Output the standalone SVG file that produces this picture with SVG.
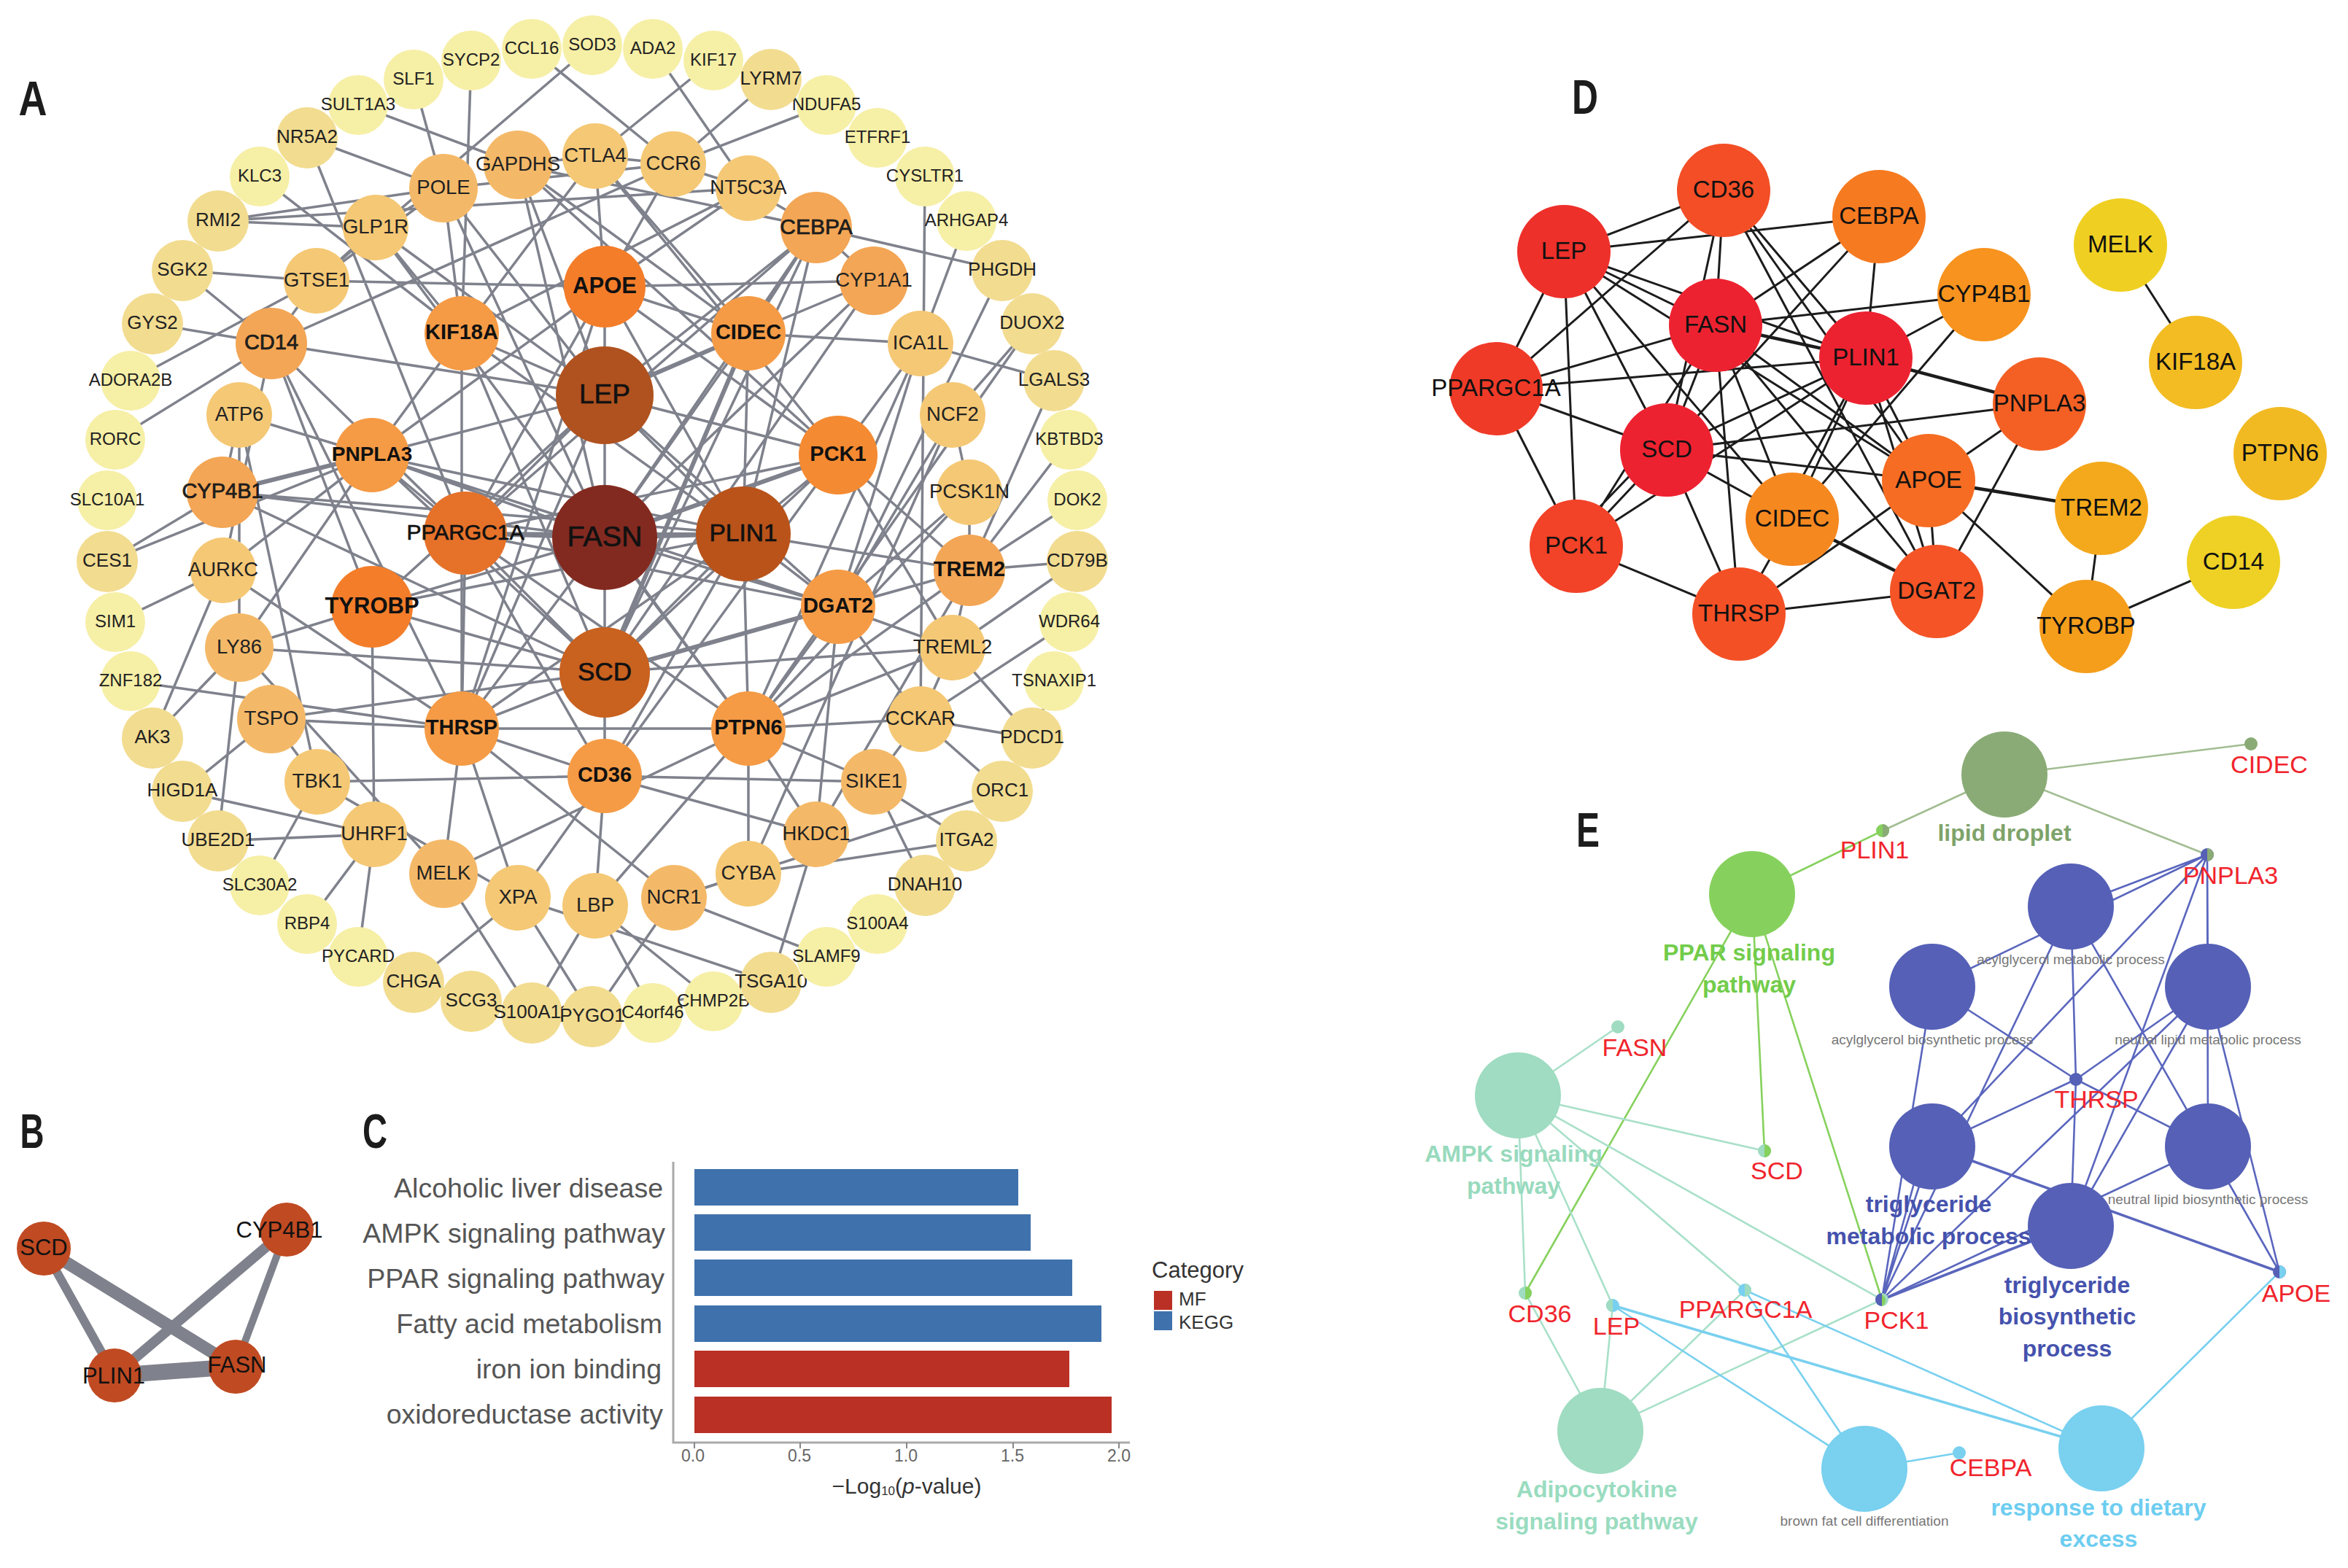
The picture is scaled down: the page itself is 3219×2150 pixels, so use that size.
<svg xmlns="http://www.w3.org/2000/svg" width="3219" height="2150" viewBox="0 0 3219 2150">
<style>
text{font-family:"Liberation Sans",Arial,sans-serif;text-anchor:middle;dominant-baseline:central;fill:#222;transform:translateY(-2px)}
.o1{fill:#f6efa6}.o2{fill:#f2dc90}.m1{fill:#f5c875}.m2{fill:#f4b968}.m3{fill:#f3a655}.i1{fill:#f59b45}.i2{fill:#f48a32}.i3{fill:#f47d2a}
.s{font-size:24px}.d{font-size:26px}.m{font-size:27.5px}.b{font-size:29px;font-weight:bold;fill:#111}
.h{stroke:#111;stroke-width:.7}
.ea{stroke:#7f828c;stroke-width:3.5;fill:none}.ea .t{stroke-width:6}
.eb{stroke:#7f828c;fill:none}
.ed{stroke:#1c1c1c;stroke-width:3;fill:none}.ed .t{stroke-width:4.5}
.nb{fill:#c04a22}.bt{font-size:31px;fill:#111}
.dt{font-size:33px;fill:#111}
.lb{font-size:66px;font-weight:bold;fill:#1c1c1c}
.cl{font-size:37.5px;fill:#555;text-anchor:end}.tk{font-size:23px;fill:#666}
.blue{fill:#3f72ac}.red{fill:#bb3025}
.g1{stroke:#a2bd92}.g2{stroke:#86d15d}.g3{stroke:#a9e0c9}.g4{stroke:#79d0ef}.g5{stroke:#5a66bd}
.ee path{stroke-width:2.6;fill:none}.ee .t{stroke-width:3.6}
.r{font-size:34px;fill:#f0242c}.gl{font-size:32px;font-weight:bold}.gy{font-size:19px;fill:#777}
.c1{fill:#8aab76}.c2{fill:#86d15d}.c3{fill:#9fdcc1}.c4{fill:#79d0ef}.c5{fill:#5560b6}
</style>
<rect width="3219" height="2150" fill="#fff"/>
<text class="lb" x="45" y="137" textLength="39" lengthAdjust="spacingAndGlyphs">A</text>
<text class="lb" x="44" y="1553" textLength="33" lengthAdjust="spacingAndGlyphs">B</text>
<text class="lb" x="514" y="1553" textLength="34" lengthAdjust="spacingAndGlyphs">C</text>
<text class="lb" x="2173" y="135" textLength="36" lengthAdjust="spacingAndGlyphs">D</text>
<text class="lb" x="2177" y="1140" textLength="32" lengthAdjust="spacingAndGlyphs">E</text>

<g id="connectors-A" class="ea">
<path d="M646 83L633 457M567 109L608 258M491 144L710 226M421 189L608 258M421 189L638 731M356 242L633 457M299 303L608 258M299 303L515 312M299 303L1026 258M250 371L434 385M434 385L829 393M829 393L1198 385M250 371L372 471M209 444L372 471M179 522L434 385M158 603L372 471M372 471L923 225M372 471L829 542M372 471L638 731M372 471L510 832M372 471L633 999M372 471L306 782"/>
<path d="M812 62L434 385M729 67L923 225M895 67L1026 258M978 83L816 214M1057 109L923 225M1133 144L923 225M816 214L923 225M816 214L829 393M816 214L633 457M923 225L829 393M923 225L608 258M923 225L1026 258M1026 258L1119 312M1026 258L829 393M1026 258L633 457"/>
<path d="M710 226L829 542M710 226L829 737M710 226L1119 312M710 226L1149 624M710 226L816 214M816 214L1026 457M816 214L1149 624M710 226L1026 457M608 258L633 457M608 258L829 542M608 258L829 737M608 258L515 312M434 385L608 258M434 385L372 471M515 312L633 457M515 312L1026 999M515 312L829 542M434 385L515 312"/>
<path d="M1119 312L1374 371M1119 312L1198 385M1119 312L1026 457M1119 312L829 737M1119 312L1019 732M1119 312L829 542M1119 312L638 731M1119 312L829 922M1198 385L1026 457M1198 385L829 737M1198 385L829 922M829 393L1026 457M829 393L1149 624M829 393L1019 732M829 393L829 542M829 393L638 731M829 393L510 624M829 393L633 999M633 457L510 624M633 457L829 542M633 457L1019 732M633 457L633 999M633 457L829 922"/>
<path d="M1268 242L1262 986M1325 303L1262 471M1026 457L1262 471M1262 471L1445 522M1262 471L1149 624M1262 471L1149 832M1262 471L1026 999M1374 371L1149 832M1415 444L1306 569M1415 444L1026 999M1445 522L1329 782M1466 603L1329 782M1477 686L1329 782M1477 770L1329 782M1477 770L1306 888M1466 853L1262 986M1445 934L1415 1012M1415 1012L1262 986M1374 1085L1262 986M1306 888L1415 1012M1374 1085L924 1231M1325 1153L1026 1198M1325 1153L1198 1072M1268 1214L1198 1072M1133 1312L924 1231M1057 1347L1119 1144M1057 1347L812 1394M710 1231L1057 1347M978 1373L816 1242M895 1389L816 1242M812 1394L710 1231M812 1394L924 1231M729 1389L816 1242M729 1389L608 1198M567 1347L710 1231M491 1312L513 1144M421 1267L513 1144M356 1214L435 1072M299 1153L513 1144M250 1085L513 1144M250 1085L372 986M299 1153L328 888M209 1012L306 782M209 1012L328 888M179 934L633 999M158 853L306 782M147 770L305 675M147 770L510 624"/>
<path d="M328 569L510 624M328 569L305 675M328 569L328 888M328 569L435 1072M305 675L510 624M305 675L829 737M305 675L1019 732M305 675L829 922M306 782L510 624M306 782L633 999M328 888L510 832M328 888L829 922M328 888L510 624M328 888L608 1198M372 986L829 922M372 986L633 999M372 986L435 1072M435 1072L829 1064M435 1072L710 1231M510 832L513 1144M633 999L608 1198M633 999L710 1231M633 999L924 1231M633 999L829 1064M829 1064L1198 1072M608 1198L1026 999M829 1064L710 1231M829 1064L816 1242M829 1064L1119 1144M829 1064L1149 624M829 1064L1019 732"/>
<path d="M1026 999L1262 986M1026 999L1198 1072M1026 999L1119 1144M1026 999L1026 1198M1026 999L816 1242M1026 999L1306 888M1026 999L1149 832M1026 999L1329 675M1026 999L633 999M1026 1198L1306 569M924 1231L1026 1198M1119 1144L1149 832M1119 1144L1329 782M1149 624L1329 782M1149 624L1306 888M1306 569L1329 675M1329 675L1329 782M1329 675L1149 832M1306 569L1149 832M1329 782L1149 832M1329 782L1306 888M1329 782L1019 732M1329 782L1026 999M1329 782L829 922M1149 832L1306 888M1149 832L1262 986M1262 986L1306 888M1262 986L1198 1072M829 922L1306 888"/>
<path d="M829 542L1019 732M829 542L829 737M829 542L829 922M829 542L638 731M829 542L1149 624M829 542L1149 832M829 542L829 1064M829 542L510 624M829 542L510 832M829 542L633 999M829 737L829 922M829 737L1149 624M829 737L1149 832M829 737L1026 999M829 737L829 1064M829 737L633 999M829 737L510 624M829 737L510 832M829 737L1026 457M1019 732L829 922M1019 732L1149 624M1019 732L1149 832M1019 732L638 731M1019 732L1026 457M1019 732L633 999M1019 732L510 624M1019 732L510 832M1019 732L1026 999M829 922L638 731M829 922L1149 624M829 922L1149 832M829 922L633 999M829 922L829 1064M829 922L510 624M829 922L510 832M829 922L1026 457M638 731L1149 624M638 731L1149 832M638 731L633 999M638 731L829 1064M638 731L1026 999M638 731L510 624M510 624L1149 832"/>
<path class="t" d="M829 542L1026 457M1026 457L829 922M829 737L638 731M829 737L1019 732M1149 832L829 922M1149 624L829 737M510 624L305 675"/>
</g>

<g id="nodes-A">
<g id="a-CCL16"><circle cx="729" cy="67" r="41" class="o1"/><text class="s" x="729" y="67">CCL16</text></g>
<g id="a-SYCP2"><circle cx="646" cy="83" r="41" class="o1"/><text class="s" x="646" y="83">SYCP2</text></g>
<g id="a-SLF1"><circle cx="567" cy="109" r="41" class="o1"/><text class="s" x="567" y="109">SLF1</text></g>
<g id="a-SULT1A3"><circle cx="491" cy="144" r="41" class="o1"/><text class="s" x="491" y="144">SULT1A3</text></g>
<g id="a-NR5A2"><circle cx="421" cy="189" r="42" class="o2"/><text class="d" x="421" y="189">NR5A2</text></g>
<g id="a-KLC3"><circle cx="356" cy="242" r="41" class="o1"/><text class="s" x="356" y="242">KLC3</text></g>
<g id="a-RMI2"><circle cx="299" cy="303" r="42" class="o2"/><text class="d" x="299" y="303">RMI2</text></g>
<g id="a-SGK2"><circle cx="250" cy="371" r="42" class="o2"/><text class="d" x="250" y="371">SGK2</text></g>
<g id="a-GYS2"><circle cx="209" cy="444" r="42" class="o2"/><text class="d" x="209" y="444">GYS2</text></g>
<g id="a-ADORA2B"><circle cx="179" cy="522" r="41" class="o1"/><text class="s" x="179" y="522">ADORA2B</text></g>
<g id="a-RORC"><circle cx="158" cy="603" r="41" class="o1"/><text class="s" x="158" y="603">RORC</text></g>
<g id="a-SLC10A1"><circle cx="147" cy="686" r="41" class="o1"/><text class="s" x="147" y="686">SLC10A1</text></g>
<g id="a-CES1"><circle cx="147" cy="770" r="42" class="o2"/><text class="d" x="147" y="770">CES1</text></g>
<g id="a-SIM1"><circle cx="158" cy="853" r="41" class="o1"/><text class="s" x="158" y="853">SIM1</text></g>
<g id="a-ZNF182"><circle cx="179" cy="934" r="41" class="o1"/><text class="s" x="179" y="934">ZNF182</text></g>
<g id="a-AK3"><circle cx="209" cy="1012" r="42" class="o2"/><text class="d" x="209" y="1012">AK3</text></g>
<g id="a-HIGD1A"><circle cx="250" cy="1085" r="42" class="o2"/><text class="d" x="250" y="1085">HIGD1A</text></g>
<g id="a-UBE2D1"><circle cx="299" cy="1153" r="42" class="o2"/><text class="d" x="299" y="1153">UBE2D1</text></g>
<g id="a-SLC30A2"><circle cx="356" cy="1214" r="41" class="o1"/><text class="s" x="356" y="1214">SLC30A2</text></g>
<g id="a-RBP4"><circle cx="421" cy="1267" r="41" class="o1"/><text class="s" x="421" y="1267">RBP4</text></g>
<g id="a-PYCARD"><circle cx="491" cy="1312" r="41" class="o1"/><text class="s" x="491" y="1312">PYCARD</text></g>
<g id="a-CHGA"><circle cx="567" cy="1347" r="42" class="o2"/><text class="d" x="567" y="1347">CHGA</text></g>
<g id="a-SCG3"><circle cx="646" cy="1373" r="42" class="o2"/><text class="d" x="646" y="1373">SCG3</text></g>
<g id="a-S100A11"><circle cx="729" cy="1389" r="42" class="o2"/><text class="d" x="729" y="1389">S100A11</text></g>
<g id="a-PYGO1"><circle cx="812" cy="1394" r="42" class="o2"/><text class="d" x="812" y="1394">PYGO1</text></g>
<g id="a-C4orf46"><circle cx="895" cy="1389" r="41" class="o1"/><text class="s" x="895" y="1389">C4orf46</text></g>
<g id="a-CHMP2B"><circle cx="978" cy="1373" r="41" class="o1"/><text class="s" x="978" y="1373">CHMP2B</text></g>
<g id="a-TSGA10"><circle cx="1057" cy="1347" r="42" class="o2"/><text class="d" x="1057" y="1347">TSGA10</text></g>
<g id="a-SLAMF9"><circle cx="1133" cy="1312" r="41" class="o1"/><text class="s" x="1133" y="1312">SLAMF9</text></g>
<g id="a-S100A4"><circle cx="1203" cy="1267" r="41" class="o1"/><text class="s" x="1203" y="1267">S100A4</text></g>
<g id="a-DNAH10"><circle cx="1268" cy="1214" r="42" class="o2"/><text class="d" x="1268" y="1214">DNAH10</text></g>
<g id="a-ITGA2"><circle cx="1325" cy="1153" r="42" class="o2"/><text class="d" x="1325" y="1153">ITGA2</text></g>
<g id="a-ORC1"><circle cx="1374" cy="1085" r="42" class="o2"/><text class="d" x="1374" y="1085">ORC1</text></g>
<g id="a-PDCD1"><circle cx="1415" cy="1012" r="42" class="o2"/><text class="d" x="1415" y="1012">PDCD1</text></g>
<g id="a-TSNAXIP1"><circle cx="1445" cy="934" r="41" class="o1"/><text class="s" x="1445" y="934">TSNAXIP1</text></g>
<g id="a-WDR64"><circle cx="1466" cy="853" r="41" class="o1"/><text class="s" x="1466" y="853">WDR64</text></g>
<g id="a-CD79B"><circle cx="1477" cy="770" r="42" class="o2"/><text class="d" x="1477" y="770">CD79B</text></g>
<g id="a-DOK2"><circle cx="1477" cy="686" r="41" class="o1"/><text class="s" x="1477" y="686">DOK2</text></g>
<g id="a-KBTBD3"><circle cx="1466" cy="603" r="41" class="o1"/><text class="s" x="1466" y="603">KBTBD3</text></g>
<g id="a-LGALS3"><circle cx="1445" cy="522" r="42" class="o2"/><text class="d" x="1445" y="522">LGALS3</text></g>
<g id="a-DUOX2"><circle cx="1415" cy="444" r="42" class="o2"/><text class="d" x="1415" y="444">DUOX2</text></g>
<g id="a-PHGDH"><circle cx="1374" cy="371" r="42" class="o2"/><text class="d" x="1374" y="371">PHGDH</text></g>
<g id="a-ARHGAP4"><circle cx="1325" cy="303" r="41" class="o1"/><text class="s" x="1325" y="303">ARHGAP4</text></g>
<g id="a-CYSLTR1"><circle cx="1268" cy="242" r="41" class="o1"/><text class="s" x="1268" y="242">CYSLTR1</text></g>
<g id="a-ETFRF1"><circle cx="1203" cy="189" r="41" class="o1"/><text class="s" x="1203" y="189">ETFRF1</text></g>
<g id="a-NDUFA5"><circle cx="1133" cy="144" r="41" class="o1"/><text class="s" x="1133" y="144">NDUFA5</text></g>
<g id="a-LYRM7"><circle cx="1057" cy="109" r="42" class="o2"/><text class="d" x="1057" y="109">LYRM7</text></g>
<g id="a-KIF17"><circle cx="978" cy="83" r="41" class="o1"/><text class="s" x="978" y="83">KIF17</text></g>
<g id="a-ADA2"><circle cx="895" cy="67" r="41" class="o1"/><text class="s" x="895" y="67">ADA2</text></g>
<g id="a-SOD3"><circle cx="812" cy="62" r="41" class="o1"/><text class="s" x="812" y="62">SOD3</text></g>

<g id="a-POLE"><circle cx="608" cy="258" r="47" class="m2"/><text class="m" x="608" y="258">POLE</text></g>
<g id="a-GAPDHS"><circle cx="710" cy="226" r="47" class="m2"/><text class="m" x="710" y="226">GAPDHS</text></g>
<g id="a-CTLA4"><circle cx="816" cy="214" r="45" class="m1"/><text class="m" x="816" y="214">CTLA4</text></g>
<g id="a-CCR6"><circle cx="923" cy="225" r="45" class="m1"/><text class="m" x="923" y="225">CCR6</text></g>
<g id="a-NT5C3A"><circle cx="1026" cy="258" r="45" class="m1"/><text class="m" x="1026" y="258">NT5C3A</text></g>
<g id="a-CEBPA"><circle cx="1119" cy="312" r="49" class="m3"/><text class="m h" style="font-size:30px" x="1119" y="312">CEBPA</text></g>
<g id="a-CYP1A1"><circle cx="1198" cy="385" r="47" class="m3"/><text class="m" x="1198" y="385">CYP1A1</text></g>
<g id="a-ICA1L"><circle cx="1262" cy="471" r="45" class="m1"/><text class="m" x="1262" y="471">ICA1L</text></g>
<g id="a-NCF2"><circle cx="1306" cy="569" r="45" class="m1"/><text class="m" x="1306" y="569">NCF2</text></g>
<g id="a-PCSK1N"><circle cx="1329" cy="675" r="45" class="m1"/><text class="m" x="1329" y="675">PCSK1N</text></g>
<g id="a-TREM2"><circle cx="1329" cy="782" r="49" class="m3"/><text class="b" x="1329" y="782">TREM2</text></g>
<g id="a-TREML2"><circle cx="1306" cy="888" r="45" class="m1"/><text class="m" x="1306" y="888">TREML2</text></g>
<g id="a-CCKAR"><circle cx="1262" cy="986" r="45" class="m1"/><text class="m" x="1262" y="986">CCKAR</text></g>
<g id="a-SIKE1"><circle cx="1198" cy="1072" r="45" class="m2"/><text class="m" x="1198" y="1072">SIKE1</text></g>
<g id="a-HKDC1"><circle cx="1119" cy="1144" r="45" class="m2"/><text class="m" x="1119" y="1144">HKDC1</text></g>
<g id="a-CYBA"><circle cx="1026" cy="1198" r="45" class="m1"/><text class="m" x="1026" y="1198">CYBA</text></g>
<g id="a-NCR1"><circle cx="924" cy="1231" r="45" class="m2"/><text class="m" x="924" y="1231">NCR1</text></g>
<g id="a-LBP"><circle cx="816" cy="1242" r="45" class="m1"/><text class="m" x="816" y="1242">LBP</text></g>
<g id="a-XPA"><circle cx="710" cy="1231" r="45" class="m1"/><text class="m" x="710" y="1231">XPA</text></g>
<g id="a-MELK"><circle cx="608" cy="1198" r="47" class="m2"/><text class="m" x="608" y="1198">MELK</text></g>
<g id="a-UHRF1"><circle cx="513" cy="1144" r="45" class="m1"/><text class="m" x="513" y="1144">UHRF1</text></g>
<g id="a-TBK1"><circle cx="435" cy="1072" r="45" class="m1"/><text class="m" x="435" y="1072">TBK1</text></g>
<g id="a-TSPO"><circle cx="372" cy="986" r="47" class="m2"/><text class="m" x="372" y="986">TSPO</text></g>
<g id="a-LY86"><circle cx="328" cy="888" r="47" class="m2"/><text class="m" x="328" y="888">LY86</text></g>
<g id="a-AURKC"><circle cx="306" cy="782" r="45" class="m1"/><text class="m" x="306" y="782">AURKC</text></g>
<g id="a-ATP6"><circle cx="328" cy="569" r="45" class="m1"/><text class="m" x="328" y="569">ATP6</text></g>
<g id="a-CYP4B1"><circle cx="305" cy="675" r="49" class="m3"/><text class="m h" style="font-size:29px" x="305" y="675">CYP4B1</text></g>
<g id="a-CD14"><circle cx="372" cy="471" r="49" class="m3"/><text class="m h" style="font-size:29px" x="372" y="471">CD14</text></g>
<g id="a-GTSE1"><circle cx="434" cy="385" r="45" class="m1"/><text class="m" x="434" y="385">GTSE1</text></g>
<g id="a-GLP1R"><circle cx="515" cy="312" r="45" class="m1"/><text class="m" x="515" y="312">GLP1R</text></g>

<g id="a-APOE"><circle cx="829" cy="393" r="56" class="i3"/><text class="b" style="font-size:31px" x="829" y="393">APOE</text></g>
<g id="a-CIDEC"><circle cx="1026" cy="457" r="51" class="i1"/><text class="b" x="1026" y="457">CIDEC</text></g>
<g id="a-PCK1"><circle cx="1149" cy="624" r="54" class="i2"/><text class="b" x="1149" y="624">PCK1</text></g>
<g id="a-DGAT2"><circle cx="1149" cy="832" r="51" class="i1"/><text class="b" x="1149" y="832">DGAT2</text></g>
<g id="a-PTPN6"><circle cx="1026" cy="999" r="51" class="i1"/><text class="b" x="1026" y="999">PTPN6</text></g>
<g id="a-CD36"><circle cx="829" cy="1064" r="51" class="i1"/><text class="b" x="829" y="1064">CD36</text></g>
<g id="a-THRSP"><circle cx="633" cy="999" r="51" class="i1"/><text class="b" x="633" y="999">THRSP</text></g>
<g id="a-TYROBP"><circle cx="510" cy="832" r="56" class="i3"/><text class="b" style="font-size:31px" x="510" y="832">TYROBP</text></g>
<g id="a-PNPLA3"><circle cx="510" cy="624" r="51" class="i1"/><text class="b" style="font-size:28px" x="510" y="624">PNPLA3</text></g>
<g id="a-KIF18A"><circle cx="633" cy="457" r="51" class="i1"/><text class="b" x="633" y="457">KIF18A</text></g>
<g id="a-LEP"><circle cx="829" cy="542" r="67" fill="#b0521f"/><text class="h" style="font-size:37px;fill:#111" x="829" y="542">LEP</text></g>
<g id="a-PPARGC1A"><circle cx="638" cy="731" r="57" fill="#e6722a"/><text class="h" style="font-size:30px;fill:#111" x="638" y="731">PPARGC1A</text></g>
<g id="a-FASN"><circle cx="829" cy="737" r="72" fill="#832a20"/><text class="h" style="font-size:39.5px;fill:#111" x="829" y="737">FASN</text></g>
<g id="a-PLIN1"><circle cx="1019" cy="732" r="65" fill="#b9531a"/><text class="h" style="font-size:33.5px;fill:#111" x="1019" y="732">PLIN1</text></g>
<g id="a-SCD"><circle cx="829" cy="922" r="62" fill="#c9611f"/><text class="h" style="font-size:35px;fill:#111" x="829" y="922">SCD</text></g>
</g>

<g id="connectors-B" class="eb">
<path stroke-width="17" d="M60 1712L323 1874"/>
<path stroke-width="12" d="M60 1712L157 1886"/>
<path stroke-width="14" d="M393 1686L157 1886"/>
<path stroke-width="10" d="M393 1686L323 1874"/>
<path stroke-width="22" d="M157 1886L323 1874"/>
</g>
<g id="b-SCD"><circle cx="60" cy="1712" r="37" class="nb"/><text class="bt" x="60" y="1712">SCD</text></g>
<g id="b-CYP4B1"><circle cx="393" cy="1686" r="37" class="nb"/><text class="bt" x="383" y="1688">CYP4B1</text></g>
<g id="b-PLIN1"><circle cx="157" cy="1886" r="37" class="nb"/><text class="bt" x="156" y="1888">PLIN1</text></g>
<g id="b-FASN"><circle cx="323" cy="1874" r="37" class="nb"/><text class="bt" x="325" y="1873">FASN</text></g>

<g id="panel-C">
<path d="M923 1593V1978H1549" fill="none" stroke="#aaa" stroke-width="3"/>
<path d="M952 1978v8M1097 1978v8M1243 1978v8M1389 1978v8M1534 1978v8" stroke="#888" stroke-width="2"/>
<rect class="blue" x="952" y="1603" width="444" height="50"/>
<rect class="blue" x="952" y="1665" width="461" height="50"/>
<rect class="blue" x="952" y="1727" width="518" height="50"/>
<rect class="blue" x="952" y="1790" width="558" height="50"/>
<rect class="red" x="952" y="1852" width="514" height="50"/>
<rect class="red" x="952" y="1915" width="572" height="50"/>
<text class="cl" x="909" y="1631">Alcoholic liver disease</text>
<text class="cl" x="912" y="1693">AMPK signaling pathway</text>
<text class="cl" x="911" y="1755">PPAR signaling pathway</text>
<text class="cl" x="908" y="1817">Fatty acid metabolism</text>
<text class="cl" x="907" y="1879">iron ion binding</text>
<text class="cl" x="909" y="1941">oxidoreductase activity</text>
<text class="tk" x="950" y="1998">0.0</text>
<text class="tk" x="1096" y="1998">0.5</text>
<text class="tk" x="1242" y="1998">1.0</text>
<text class="tk" x="1388" y="1998">1.5</text>
<text class="tk" x="1534" y="1998">2.0</text>
<text style="font-size:30px;fill:#333" x="1243" y="2039">−Log<tspan font-size="17" dy="7">10</tspan><tspan dy="-7">(</tspan><tspan font-style="italic">p</tspan>-value)</text>
<text style="font-size:31px;fill:#333" x="1642" y="1743">Category</text>
<rect class="red" x="1582" y="1770" width="25" height="26"/>
<rect class="blue" x="1582" y="1798" width="25" height="26"/>
<text style="font-size:26px;fill:#333;text-anchor:start" x="1616" y="1783">MF</text>
<text style="font-size:26px;fill:#333;text-anchor:start" x="1616" y="1815">KEGG</text>
</g>

<g id="connectors-D" class="ed">
<path d="M2907 336L3010 497M2881 697L2860 859M2860 859L3062 771M2644 659L2860 859M2144 345L2363 261M2144 345L2576 297M2144 345L2352 446M2144 345L2558 491M2144 345L2051 533M2144 345L2161 749M2144 345L2285 617M2144 345L2457 712M2144 345L2644 659M2363 261L2051 533M2363 261L2352 446M2363 261L2285 617M2363 261L2558 491M2363 261L2644 659M2363 261L2655 811M2576 297L2558 491M2576 297L2352 446M2576 297L2285 617M2720 404L2352 446M2720 404L2558 491M2720 404L2457 712M2352 446L2051 533M2352 446L2285 617M2352 446L2644 659M2352 446L2161 749M2352 446L2384 842M2352 446L2457 712M2352 446L2655 811M2352 446L2558 491M2558 491L2051 533M2558 491L2285 617M2558 491L2644 659M2558 491L2457 712M2558 491L2440 712M2558 491L2161 749M2558 491L2655 811M2051 533L2285 617M2051 533L2161 749M2796 554L2285 617M2796 554L2644 659M2796 554L2655 811M2285 617L2644 659M2285 617L2457 712M2285 617L2161 749M2275 610L2150 740M2285 617L2384 842M2644 659L2655 811M2644 659L2384 842M2457 712L2384 842M2161 749L2384 842M2384 842L2655 811"/>
<path class="t" d="M2352 446L2558 491M2558 491L2796 554M2457 712L2655 811M2644 659L2881 697"/>
</g>
<g id="nodes-D">
<g id="d-CD36"><circle cx="2363" cy="261" r="64" fill="#f34e26"/><text class="dt" x="2363" y="261">CD36</text></g>
<g id="d-CEBPA"><circle cx="2576" cy="297" r="64" fill="#f67a20"/><text class="dt" x="2576" y="297">CEBPA</text></g>
<g id="d-LEP"><circle cx="2144" cy="345" r="64" fill="#ee302a"/><text class="dt" x="2144" y="345">LEP</text></g>
<g id="d-CYP4B1"><circle cx="2720" cy="404" r="64" fill="#f7931e"/><text class="dt" x="2720" y="404">CYP4B1</text></g>
<g id="d-FASN"><circle cx="2352" cy="446" r="64" fill="#ed2230"/><text class="dt" x="2352" y="446">FASN</text></g>
<g id="d-PLIN1"><circle cx="2558" cy="491" r="64" fill="#ed2230"/><text class="dt" x="2558" y="491">PLIN1</text></g>
<g id="d-PPARGC1A"><circle cx="2051" cy="533" r="64" fill="#f03a28"/><text class="dt" x="2051" y="533">PPARGC1A</text></g>
<g id="d-PNPLA3"><circle cx="2796" cy="554" r="64" fill="#f46024"/><text class="dt" x="2796" y="554">PNPLA3</text></g>
<g id="d-SCD"><circle cx="2285" cy="617" r="64" fill="#ed2230"/><text class="dt" x="2285" y="617">SCD</text></g>
<g id="d-APOE"><circle cx="2644" cy="659" r="64" fill="#f56c22"/><text class="dt" x="2644" y="659">APOE</text></g>
<g id="d-CIDEC"><circle cx="2457" cy="712" r="64" fill="#f68820"/><text class="dt" x="2457" y="712">CIDEC</text></g>
<g id="d-PCK1"><circle cx="2161" cy="749" r="64" fill="#f24228"/><text class="dt" x="2161" y="749">PCK1</text></g>
<g id="d-THRSP"><circle cx="2384" cy="842" r="64" fill="#f45026"/><text class="dt" x="2384" y="842">THRSP</text></g>
<g id="d-DGAT2"><circle cx="2655" cy="811" r="64" fill="#f45426"/><text class="dt" x="2655" y="811">DGAT2</text></g>
<g id="d-TREM2"><circle cx="2881" cy="697" r="64" fill="#f4a91c"/><text class="dt" x="2881" y="697">TREM2</text></g>
<g id="d-TYROBP"><circle cx="2860" cy="859" r="64" fill="#f59e1c"/><text class="dt" x="2860" y="859">TYROBP</text></g>
<g id="d-CD14"><circle cx="3062" cy="771" r="64" fill="#eed124"/><text class="dt" x="3062" y="771">CD14</text></g>
<g id="d-PTPN6"><circle cx="3126" cy="622" r="64" fill="#f2ba22"/><text class="dt" x="3126" y="622">PTPN6</text></g>
<g id="d-KIF18A"><circle cx="3010" cy="497" r="64" fill="#f2bc22"/><text class="dt" x="3010" y="497">KIF18A</text></g>
<g id="d-MELK"><circle cx="2907" cy="336" r="64" fill="#efd022"/><text class="dt" x="2907" y="336">MELK</text></g>
</g>

<g id="connectors-E" class="ee">
<path class="g1" d="M2748 1062L3086 1020M2748 1062L2581 1139M2748 1062L3026 1172"/>
<path class="g2" d="M2402 1226L2581 1139M2402 1226L2091 1773M2402 1226L2419 1578M2402 1226L2580 1782"/>
<path class="g3" d="M2081 1502L2218 1408M2081 1502L2419 1578M2081 1502L2091 1773M2081 1502L2211 1790M2081 1502L2392 1769M2081 1502L2580 1782M2194 1962L2091 1773M2194 1962L2211 1790M2194 1962L2392 1769M2194 1962L2580 1782"/>
<path class="g4" d="M2556 2014L2211 1790M2556 2014L2392 1769M2556 2014L2686 1992M2881 1986L2392 1769M2881 1986L3125 1744"/>
<path class="g4 t" d="M2881 1986L2211 1790"/>
<path class="g5" d="M2839 1243L3026 1172M2839 1243L2580 1782M2839 1243L2846 1480M2839 1243L3125 1744M2649 1353L3026 1172M2649 1353L2580 1782M2649 1353L2846 1480M3027 1353L3026 1172M3027 1353L2580 1782M3027 1353L2846 1480M3027 1353L3125 1744M2649 1572L3026 1172M2649 1572L2580 1782M2638 1572L2580 1782M2649 1572L2846 1480M3027 1572L3026 1172M3027 1572L2580 1782M3027 1572L2846 1480M3027 1572L3125 1744M2839 1681L3026 1172M2839 1681L2846 1480M2839 1681L3027 1353"/>
<path class="g5 t" d="M2649 1572L3125 1744M2839 1681L2580 1782"/>
</g>
<g id="nodes-E">
<g id="e-lipid-droplet"><circle cx="2748" cy="1062" r="59" class="c1"/><text class="gl" style="fill:#7ea36a" x="2748" y="1144">lipid droplet</text></g>
<g id="e-PPAR"><circle cx="2402" cy="1226" r="59" class="c2"/><text class="gl" style="fill:#72cc4a" x="2398" y="1308">PPAR signaling</text><text class="gl" style="fill:#72cc4a" x="2398" y="1352">pathway</text></g>
<g id="e-AMPK"><circle cx="2081" cy="1502" r="59" class="c3"/><text class="gl" style="fill:#98dabd" x="2075" y="1584">AMPK signaling</text><text class="gl" style="fill:#98dabd" x="2075" y="1628">pathway</text></g>
<g id="e-acyl-met"><circle cx="2839" cy="1243" r="59" class="c5"/><text class="gy" x="2839" y="1317">acylglycerol metabolic process</text></g>
<g id="e-acyl-bio"><circle cx="2649" cy="1353" r="59" class="c5"/><text class="gy" x="2649" y="1427">acylglycerol biosynthetic process</text></g>
<g id="e-neutral-met"><circle cx="3027" cy="1353" r="59" class="c5"/><text class="gy" x="3027" y="1427">neutral lipid metabolic process</text></g>
<g id="e-tg-met"><circle cx="2649" cy="1572" r="59" class="c5"/><text class="gl" style="fill:#4552ad" x="2644" y="1653">triglyceride</text><text class="gl" style="fill:#4552ad" x="2644" y="1697">metabolic process</text></g>
<g id="e-neutral-bio"><circle cx="3027" cy="1572" r="59" class="c5"/><text class="gy" x="3027" y="1646">neutral lipid biosynthetic process</text></g>
<g id="e-tg-bio"><circle cx="2839" cy="1681" r="59" class="c5"/><text class="gl" style="fill:#4552ad" x="2834" y="1764">triglyceride</text><text class="gl" style="fill:#4552ad" x="2834" y="1807">biosynthetic</text><text class="gl" style="fill:#4552ad" x="2834" y="1851">process</text></g>
<g id="e-adipo"><circle cx="2194" cy="1962" r="59" class="c3"/><text class="gl" style="fill:#9adcc0" x="2189" y="2044">Adipocytokine</text><text class="gl" style="fill:#9adcc0" x="2189" y="2088">signaling pathway</text></g>
<g id="e-brown"><circle cx="2556" cy="2014" r="59" class="c4"/><text class="gy" x="2556" y="2087">brown fat cell differentiation</text></g>
<g id="e-response"><circle cx="2881" cy="1986" r="59" class="c4"/><text class="gl" style="fill:#6dcdf0" x="2877" y="2069">response to dietary</text><text class="gl" style="fill:#6dcdf0" x="2877" y="2112">excess</text></g>
<g id="e-CIDEC"><circle cx="3086" cy="1020" r="9" class="c1"/><text class="r" x="3111" y="1050">CIDEC</text></g>
<g id="e-PLIN1"><circle cx="2581" cy="1139" r="9" class="c2"/><path class="c1" d="M2581 1130a9 9 0 0 1 0 18z"/><text class="r" x="2570" y="1167">PLIN1</text></g>
<g id="e-PNPLA3"><circle cx="3026" cy="1172" r="9" class="c5"/><path class="c1" d="M3026 1163a9 9 0 0 1 0 18z"/><text class="r" x="3058" y="1202">PNPLA3</text></g>
<g id="e-FASN"><circle cx="2218" cy="1408" r="9" class="c3"/><text class="r" x="2241" y="1438">FASN</text></g>
<g id="e-THRSP"><circle cx="2846" cy="1480" r="9" class="c5"/><text class="r" x="2874" y="1509">THRSP</text></g>
<g id="e-SCD"><circle cx="2419" cy="1578" r="9" class="c3"/><path class="c2" d="M2419 1569a9 9 0 0 1 0 18z"/><text class="r" x="2436" y="1607">SCD</text></g>
<g id="e-CD36"><circle cx="2091" cy="1773" r="9" class="c3"/><path class="c2" d="M2091 1764a9 9 0 0 1 0 18z"/><text class="r" x="2111" y="1803">CD36</text></g>
<g id="e-LEP"><circle cx="2211" cy="1790" r="9" class="c4"/><path class="c3" d="M2211 1781a9 9 0 0 0 0 18z"/><text class="r" x="2216" y="1820">LEP</text></g>
<g id="e-PPARGC1A"><circle cx="2392" cy="1769" r="9" class="c4"/><path class="c3" d="M2392 1760a9 9 0 0 1 0 18z"/><text class="r" x="2393" y="1797">PPARGC1A</text></g>
<g id="e-PCK1"><circle cx="2580" cy="1782" r="9" class="c3"/><path class="c5" d="M2580 1773a9 9 0 0 0 0 18z"/><path class="c2" d="M2580 1775a9 9 0 0 1 0 16z"/><text class="r" x="2600" y="1812">PCK1</text></g>
<g id="e-APOE"><circle cx="3125" cy="1744" r="9" class="c5"/><path class="c4" d="M3125 1735a9 9 0 0 1 0 18z"/><text class="r" x="3148" y="1775">APOE</text></g>
<g id="e-CEBPA"><circle cx="2686" cy="1992" r="9" class="c4"/><text class="r" x="2729" y="2014">CEBPA</text></g>
</g>
</svg>
